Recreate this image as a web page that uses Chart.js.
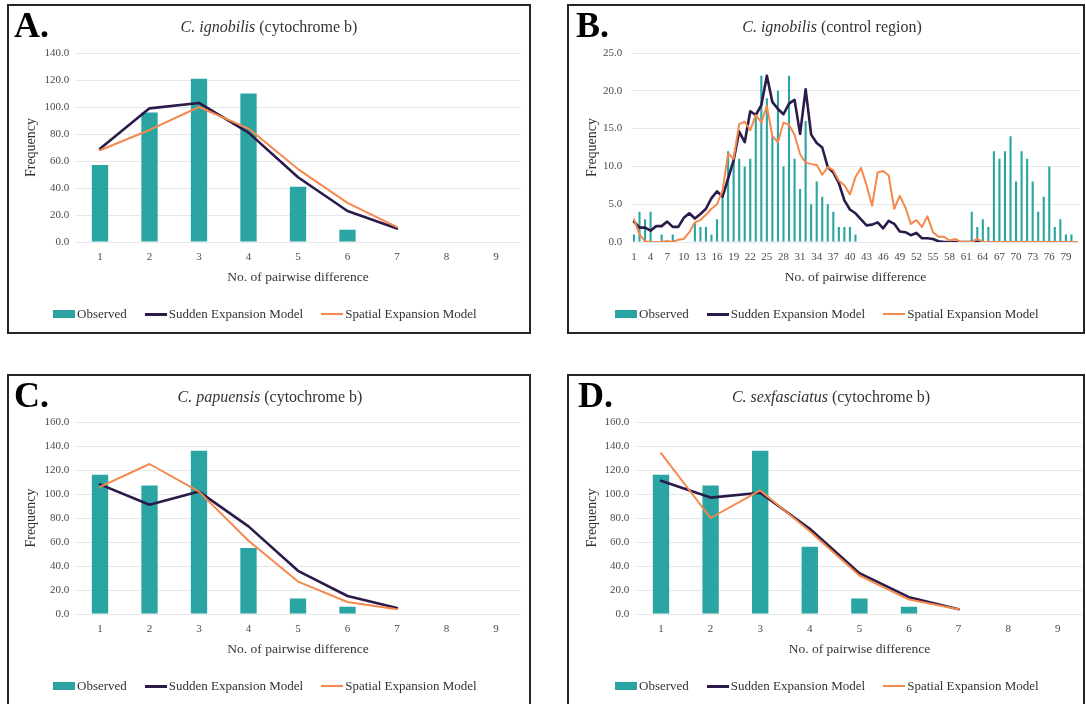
<!DOCTYPE html>
<html><head><meta charset="utf-8">
<script src="https://cdn.jsdelivr.net/npm/chart.js@4.4.1/dist/chart.umd.min.js"></script>
<style>
body{margin:0;background:#fff;width:1086px;height:704px;overflow:hidden;position:relative;font-family:'Liberation Serif','Times New Roman',serif;}
.panel{position:absolute;border:2px solid #262626;box-sizing:border-box;}
canvas{position:absolute;}
.letter{position:absolute;font-weight:bold;font-size:36px;line-height:36px;color:#000;}
.title{position:absolute;font-size:16px;line-height:18px;color:#333;transform:translateX(-50%);white-space:nowrap;}
.legend{position:absolute;display:flex;align-items:center;font-size:13px;line-height:16px;color:#333;white-space:nowrap;}
.legend .item{display:flex;align-items:center;margin-right:18px;}
.legend .box{width:22px;height:8px;margin-right:2px;background:#2aa5a3;}
.legend .ln{width:22px;margin-right:2px;}
</style></head>
<body>
<div class="panel" style="left:7px;top:4px;width:524px;height:330px"></div>
<div class="panel" style="left:567px;top:4px;width:518px;height:330px"></div>
<div class="panel" style="left:7px;top:374px;width:524px;height:340px"></div>
<div class="panel" style="left:567px;top:374px;width:518px;height:340px"></div>

<canvas id="cA" width="545" height="345" style="left:0;top:0"></canvas>
<canvas id="cB" width="541" height="345" style="left:545px;top:0"></canvas>
<canvas id="cC" width="545" height="354" style="left:0;top:350px"></canvas>
<canvas id="cD" width="541" height="354" style="left:545px;top:350px"></canvas>

<div class="letter" style="left:14px;top:7px">A.</div>
<div class="letter" style="left:576px;top:7px">B.</div>
<div class="letter" style="left:14px;top:377px">C.</div>
<div class="letter" style="left:578px;top:377px">D.</div>

<div class="title" style="left:269px;top:18px"><i>C. ignobilis</i> (cytochrome b)</div>
<div class="title" style="left:832px;top:18px"><i>C. ignobilis</i> (control region)</div>
<div class="title" style="left:270px;top:388px"><i>C. papuensis</i> (cytochrome b)</div>
<div class="title" style="left:831px;top:388px"><i>C. sexfasciatus</i> (cytochrome b)</div>

<div id="legends"></div>

<script>
// ---------- data ----------
const categoriesA = [1,2,3,4,5,6,7,8,9];
const observedA = [57, 96, 121, 110, 41, 9, 0, 0, 0];
const suddenA   = [69, 99, 103, 81, 48, 23, 10, null, null];
const spatialA  = [68, 83, 100, 84, 54, 29, 11, null, null];

const categoriesB = [1,2,3,4,5,6,7,8,9,10,11,12,13,14,15,16,17,18,19,20,21,22,23,24,25,26,27,28,29,30,31,32,33,34,35,36,37,38,39,40,41,42,43,44,45,46,47,48,49,50,51,52,53,54,55,56,57,58,59,60,61,62,63,64,65,66,67,68,69,70,71,72,73,74,75,76,77,78,79,80,81];
const observedB = [1,4,3,4,0,1,0,1,0,0,
  0,2.5,2,2,1,3,6,12,11,11,
  10,11,17,22,19,14,20,10,22,11,
  7,16,5,8,6,5,4,2,2,2,
  1,0,0,0,0,0,0,0,0,0,
  0,0,0,0,0,0,0,0,0,0,
  0,4,2,3,2,12,11,12,14,8,
  12,11,8,4,6,10,2,3,1,1,
  0];
const suddenB = [2.7,1.9,1.9,1.5,2.1,2.1,2.7,2.0,2.0,3.2,
  3.8,3.1,3.7,4.4,5.8,6.7,6.0,8.4,10.8,14.6,
  13.2,17.3,16.8,18.1,22.0,18.5,17.6,16.9,18.3,18.8,
  14.3,20.2,14.2,13.1,12.5,9.9,9.2,7.8,5.5,4.3,
  3.8,3.0,2.2,2.3,2.6,1.8,2.8,2.4,1.4,1.3,
  0.9,1.2,0.5,0.5,0.4,0.1,0,0,0,0,
  0,0,0,0,null,null,null,null,null,null,
  null,null,null,null,null,null,null,null,null,null,
  null];
const spatialB = [3.0,1.0,0.1,0,0,0,0.15,0,0.3,0.4,
  1.3,2.6,2.9,3.6,4.4,5.0,6.8,11.7,11.0,15.6,
  15.9,14.8,16.8,15.8,18.0,14.0,13.2,15.8,15.5,14.2,
  11.6,10.5,10.3,10.2,8.9,9.9,9.5,8.1,7.5,6.3,
  8.6,9.8,7.5,4.8,9.2,9.4,8.8,4.4,6.1,4.6,
  2.4,2.9,2.0,3.4,1.3,0.7,0.7,0.2,0.4,0,
  0,0,0.4,0,0,0,0,0,0,0,
  0,0,0,0,0,0,0,0,0,0,
  0];

const categoriesC = [1,2,3,4,5,6,7,8,9];
const observedC = [116, 107, 136, 55, 13, 6, 0, 0, 0];
const suddenC   = [108, 91, 102, 73, 36, 15, 5, null, null];
const spatialC  = [106, 125, 102, 61, 27, 10, 4, null, null];

const categoriesD = [1,2,3,4,5,6,7,8,9];
const observedD = [116, 107, 136, 56, 13, 6, 0, 0, 0];
const suddenD   = [111, 97, 101, 71, 34, 14, 4, null, null];
const spatialD  = [134, 80, 103, 69, 32, 12, 4, null, null];

const seriesNames = ['Observed', 'Sudden Expansion Model', 'Spatial Expansion Model'];

// ---------- style ----------
const TEAL = '#2aa5a3', PURPLE = '#2b1a4a', ORANGE = '#f5894c';
const TICK = '#4a4a4a', AXT = '#333333', GRID = '#e4e8ea';
Chart.defaults.font.family = "'Liberation Serif','Times New Roman',serif";

function build(id, cats, obs, sud, spa, L) {
  return new Chart(document.getElementById(id), {
    type: 'bar',
    data: {
      labels: cats.map(String),
      datasets: [
        {type:'bar', label:seriesNames[0], data:obs, backgroundColor:TEAL, borderWidth:0,
         barPercentage:L.bar, categoryPercentage:1, order:3},
        {type:'line', label:seriesNames[1], data:sud, borderColor:PURPLE, borderWidth:2.6,
         pointRadius:0, tension:0, borderJoinStyle:'round', borderCapStyle:'round', order:2},
        {type:'line', label:seriesNames[2], data:spa, borderColor:ORANGE, borderWidth:2,
         pointRadius:0, tension:0, borderJoinStyle:'round', borderCapStyle:'round', order:1}
      ]
    },
    options: {
      responsive:false, animation:false, events:[],
      layout:{padding:L.pad},
      plugins:{legend:{display:false}, tooltip:{enabled:false}},
      scales:{
        x:{
          offset:true,
          grid:{display:false, drawTicks:false}, border:{display:false},
          ticks:{padding:9, color:TICK, font:{size:11}, autoSkip:false, maxRotation:0, minRotation:0,
                 callback:(v,i)=> (i % L.every === 0 ? String(cats[i]) : '')},
          title:{display:true, text:'No. of pairwise difference', color:AXT, font:{size:13.5}, padding:0},
          afterFit:s=>{ s.height = L.xh; }
        },
        y:{
          min:0, max:L.max,
          ticks:{stepSize:L.step, padding:L.tp, color:TICK, font:{size:11}, callback:v=>Number(v).toFixed(1)},
          grid:{color:GRID, lineWidth:1, drawTicks:false}, border:{display:false},
          title:{display:true, text:'Frequency', color:AXT, font:{size:14}, padding:0},
          afterFit:s=>{ s.width = L.yw; }
        }
      }
    }
  });
}

build('cA', categoriesA, observedA, suddenA, spatialA,
  {pad:{left:23.2, right:24.25, top:53, bottom:59.7}, yw:52.05, xh:43.3, max:140, step:20, tp:6, bar:0.33, every:1});
build('cB', categoriesB, observedB, suddenB, spatialB,
  {pad:{left:39.2, right:6, top:53, bottom:59.7}, yw:47, xh:43.3, max:25, step:5, tp:9, bar:0.38, every:3});
build('cC', categoriesC, observedC, suddenC, spatialC,
  {pad:{left:23.2, right:24.25, top:72, bottom:46.2}, yw:52.05, xh:43.8, max:160, step:20, tp:6, bar:0.33, every:1});
build('cD', categoriesD, observedD, suddenD, spatialD,
  {pad:{left:39.2, right:3.4, top:72, bottom:46.2}, yw:52, xh:43.8, max:160, step:20, tp:7, bar:0.33, every:1});

// ---------- legends (HTML) ----------
const legendPos = [[53,306],[615,306],[53,678],[615,678]];
const host = document.getElementById('legends');
legendPos.forEach(([x,y])=>{
  const d = document.createElement('div');
  d.className = 'legend';
  d.style.left = x+'px'; d.style.top = y+'px';
  d.innerHTML =
    '<span class="item"><span class="box"></span>'+seriesNames[0]+'</span>'+
    '<span class="item"><span class="ln" style="border-top:3px solid '+PURPLE+'"></span>'+seriesNames[1]+'</span>'+
    '<span class="item"><span class="ln" style="border-top:2px solid '+ORANGE+'"></span>'+seriesNames[2]+'</span>';
  host.appendChild(d);
});
</script>
</body></html>
